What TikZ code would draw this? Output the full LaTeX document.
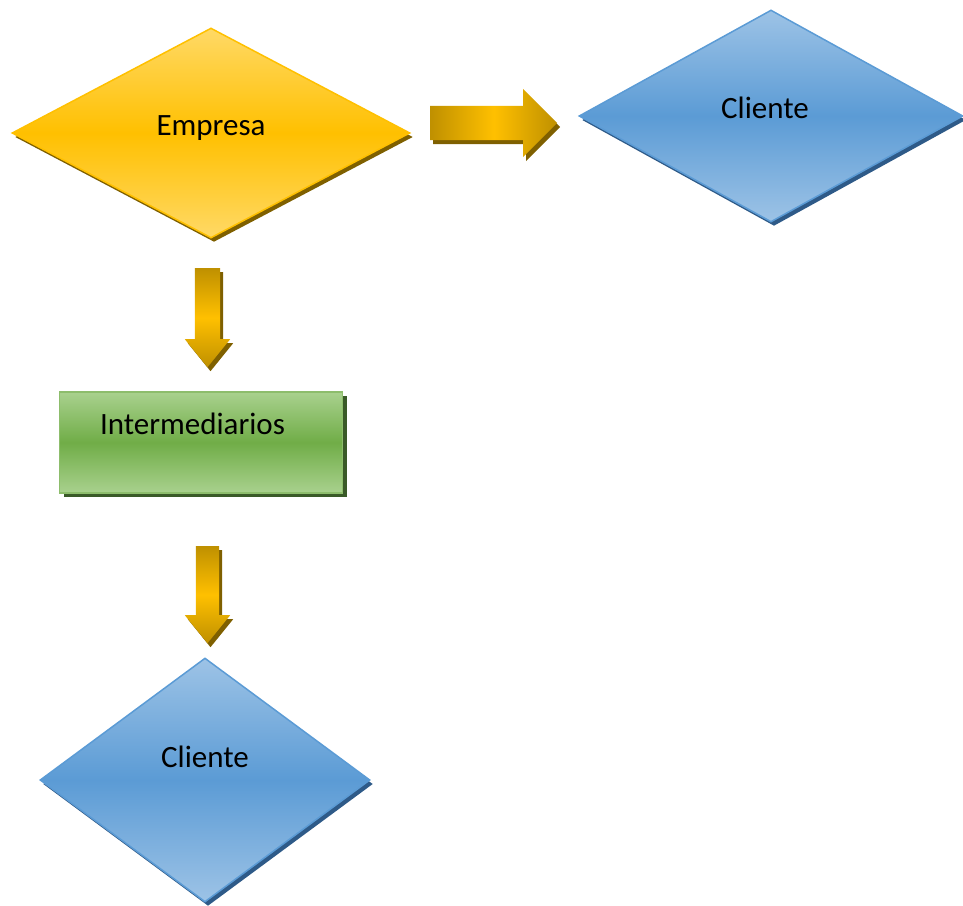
\documentclass[tikz,border=0pt]{standalone}
\usepackage{fontspec}
\setmainfont{Carlito}
\usetikzlibrary{shapes.geometric,shapes.arrows,shadows}

\definecolor{oro}{HTML}{FFC000}
\definecolor{oroclaro}{HTML}{FFD966}
\definecolor{orooscuro}{HTML}{BF9000}
\definecolor{orosombra}{HTML}{7F6000}
\definecolor{azul}{HTML}{5B9BD5}
\definecolor{azulclaro}{HTML}{9DC3E6}
\definecolor{azulsombra}{HTML}{2E5A88}
\definecolor{verde}{HTML}{70AD47}
\definecolor{verdeclaro}{HTML}{A9D18E}
\definecolor{verdesombra}{HTML}{3A5A28}

\tikzstyle{empresa} = [diamond, draw=oro, line width=1.5pt, top color=oroclaro, bottom color=oroclaro, middle color=oro, inner sep=0pt, drop shadow={shadow xshift=3pt, shadow yshift=-4pt, opacity=1, fill=orosombra}]
\tikzstyle{cliente} = [diamond, draw=azul, line width=1.5pt, top color=azulclaro, bottom color=azulclaro, middle color=azul, inner sep=0pt, drop shadow={shadow xshift=3pt, shadow yshift=-4pt, opacity=1, fill=azulsombra}]
\tikzstyle{intermedio} = [rectangle, draw=verde!80!white, line width=1.5pt, top color=verdeclaro, bottom color=verdeclaro, middle color=verde, inner sep=0pt, drop shadow={shadow xshift=4pt, shadow yshift=-4pt, opacity=1, fill=verdesombra}]
\tikzstyle{flecha} = [single arrow, left color=orooscuro, right color=orooscuro, middle color=oro, inner xsep=0pt, anchor=tail, drop shadow={shadow xshift=3pt, shadow yshift=-4pt, opacity=1, fill=orosombra}]
\tikzstyle{flechaabajo} = [flecha, rotate=-90, top color=orooscuro, bottom color=orooscuro, middle color=oro, single arrow tip angle=78]

\begin{document}
\begin{tikzpicture}[x=1pt, y=-1pt, font=\fontsize{31}{37}\selectfont]
\useasboundingbox (0,0) rectangle (963,905);

\node (empresa) [empresa, minimum width=398pt, minimum height=210pt] at (211,133) {\raisebox{-2pt}[0pt][0pt]{Empresa}};
\node (cliente1) [cliente, minimum width=384pt, minimum height=212pt] at (771,116) {\raisebox{-2pt}[0pt][0pt]{\hspace*{-12pt}Cliente}};
\node (intermediarios) [intermedio, minimum width=283pt, minimum height=101pt] at (201,442.5) {\raisebox{8pt}[0pt][0pt]{\hspace*{-17pt}Intermediarios}};
\node (cliente2) [cliente, minimum width=330pt, minimum height=244pt] at (205,780) {\raisebox{13pt}[0pt][0pt]{Cliente}};

% flechas
\node (flecha1) [flecha, minimum height=127pt, inner ysep=17pt, single arrow head extend=17pt] at (430,123) {};
\node (flecha2) [flechaabajo, minimum height=99pt, inner ysep=12.5pt, single arrow head extend=10pt] at (207.5,268) {};
\node (flecha3) [flechaabajo, minimum height=97pt, inner ysep=11.5pt, single arrow head extend=11pt] at (207.5,546) {};
\end{tikzpicture}
\end{document}
